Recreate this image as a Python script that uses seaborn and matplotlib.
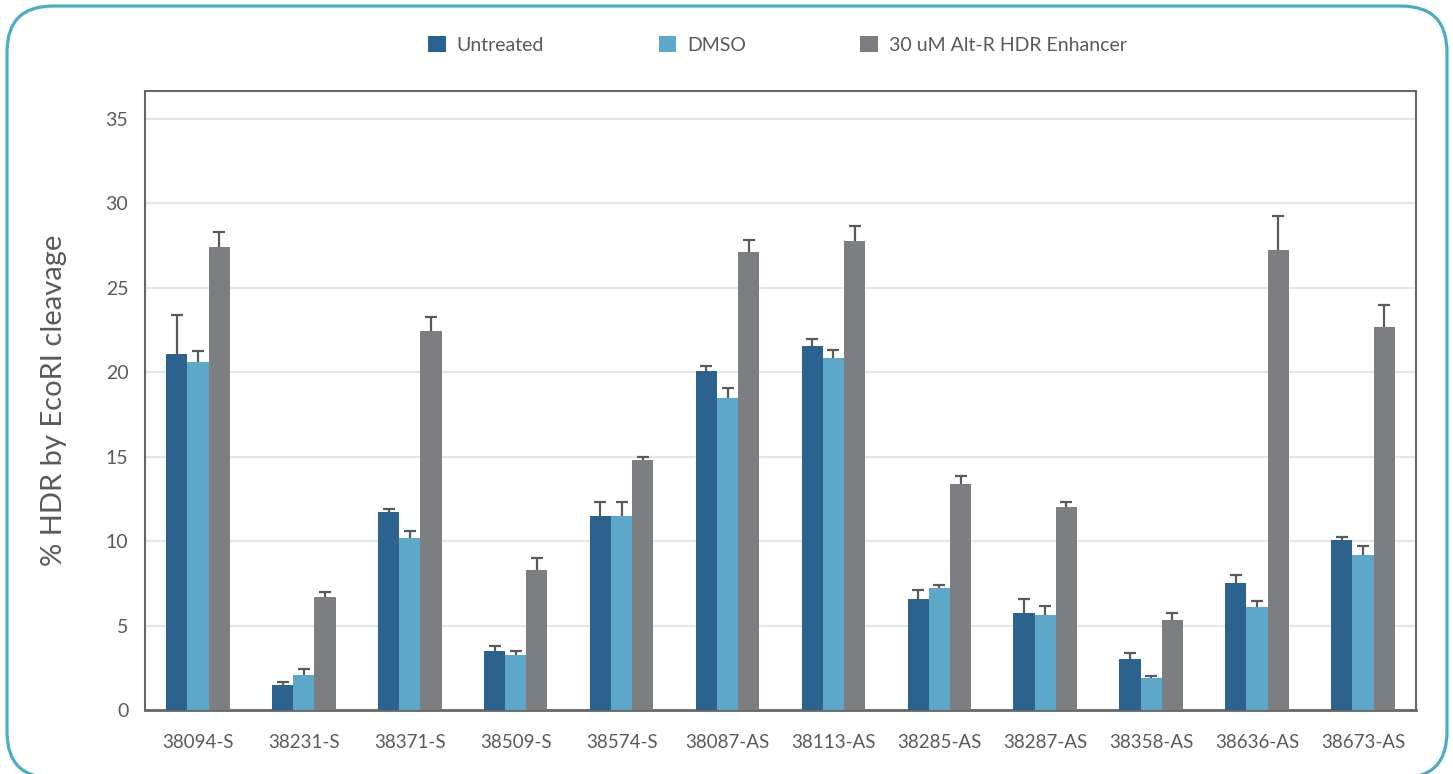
import pandas as pd
import matplotlib.pyplot as plt
import seaborn as sns
from matplotlib.patches import FancyBboxPatch, Patch

guides = ['38094-S', '38231-S', '38371-S', '38509-S', '38574-S', '38087-AS',
          '38113-AS', '38285-AS', '38287-AS', '38358-AS', '38636-AS', '38673-AS']
conditions = ['Untreated', 'DMSO', '30 uM Alt-R HDR Enhancer']

untreated = [21.1, 1.5, 11.7, 3.5, 11.5, 20.1, 21.55, 6.6, 5.75, 3.0, 7.5, 10.05]
untreated_err = [2.3, 0.15, 0.2, 0.28, 0.8, 0.3, 0.45, 0.5, 0.85, 0.4, 0.5, 0.22]
dmso = [20.6, 2.1, 10.2, 3.25, 11.5, 18.5, 20.85, 7.25, 5.65, 1.9, 6.1, 9.2]
dmso_err = [0.65, 0.32, 0.38, 0.24, 0.8, 0.6, 0.48, 0.17, 0.48, 0.14, 0.36, 0.5]
enhancer = [27.4, 6.7, 22.45, 8.3, 14.8, 27.15, 27.75, 13.4, 12.05, 5.35, 27.25, 22.7]
enhancer_err = [0.9, 0.28, 0.8, 0.7, 0.16, 0.66, 0.9, 0.45, 0.26, 0.38, 2.0, 1.3]

colores = ['#2b638e', '#5da8c8', '#7d7e82']
texto = '#5a5a5a'

df = pd.DataFrame({
    'guide': guides * 3,
    'value': untreated + dmso + enhancer,
    'condition': [c for c in conditions for _ in guides],
})
errores = [untreated_err, dmso_err, enhancer_err]

sns.set_style('white')
plt.rcParams['font.family'] = ['Lato', 'DejaVu Sans']

fig = plt.figure(figsize=(14.53, 7.74), dpi=100)
ax = fig.add_axes([0.0998, 0.0827, 0.8747, 0.7997])

sns.barplot(data=df, x='guide', y='value', hue='condition', palette=colores,
            errorbar=None, width=0.6, gap=0, saturation=1, ax=ax, legend=False,
            linewidth=0, edgecolor='none', zorder=3)

# barras de error solo hacia arriba (sin la tapa de abajo)
for cont, err in zip(ax.containers, errores):
    xs = [b.get_x() + b.get_width() / 2 for b in cont]
    hs = [b.get_height() for b in cont]
    _, caps, _ = ax.errorbar(xs, hs, yerr=[[0] * len(err), err], fmt='none',
                             ecolor='#5a5a5a', elinewidth=1.6, capsize=4.5,
                             capthick=1.6, zorder=2)
    caps[0].set_visible(False)

ax.set_ylim(0, 36.66)
ax.set_xlim(-0.5, len(guides) - 0.5)
ax.set_yticks(range(0, 36, 5))
ax.yaxis.grid(True, color='#e6e6e6', linewidth=1.5, zorder=0)
ax.set_axisbelow(True)
for s in ax.spines.values():
    s.set_color('#666666')
    s.set_linewidth(1.5)
ax.spines['bottom'].set_linewidth(2)

ax.tick_params(axis='y', length=6, width=1.3, color='#666666', pad=6,
               labelsize=14, labelcolor=texto)
ax.tick_params(axis='x', length=0, pad=17, labelsize=13.5, labelcolor=texto)
ax.set_xlabel('')
ax.set_ylabel('% HDR by EcoRI cleavage', fontsize=21, color=texto, labelpad=28)

handles = [Patch(facecolor=c, edgecolor='none') for c in colores]
leg = fig.legend(handles, conditions, loc='center', bbox_to_anchor=(0.535, 0.942),
                 ncol=3, frameon=False, fontsize=14, handlelength=0.9,
                 handleheight=0.9, handletextpad=0.55, columnspacing=5.9)
for t in leg.get_texts():
    t.set_color(texto)

# marco redondeado exterior
marco = FancyBboxPatch((0.07, -0.04), 14.40, 7.72,
                       boxstyle='round,pad=0,rounding_size=0.46',
                       transform=fig.dpi_scale_trans, facecolor='none',
                       edgecolor='#4bacc8', linewidth=2.3, clip_on=False)
fig.patches.append(marco)

fig.savefig('out.png', dpi=100)
